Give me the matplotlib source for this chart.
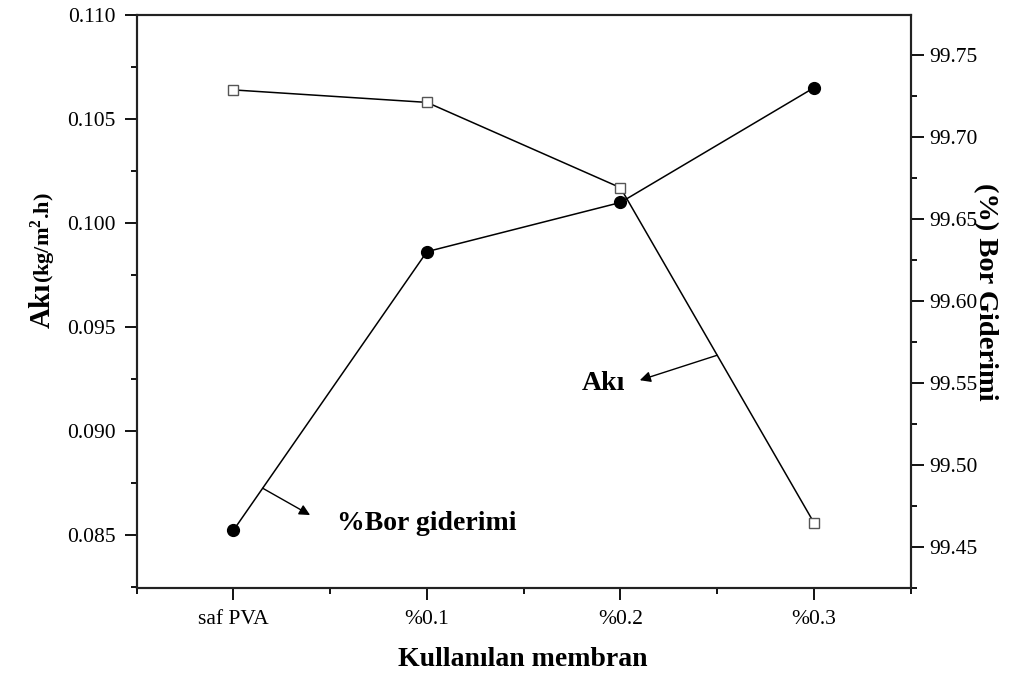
import matplotlib
matplotlib.use('Agg')
import matplotlib.pyplot as plt
from matplotlib.ticker import MultipleLocator, FormatStrFormatter, FixedLocator
import numpy as np

# ---- data ----
categories = ['saf PVA', '%0.1', '%0.2', '%0.3']
flux = [0.1064, 0.1058, 0.1017, 0.0856]          # Akı (kg/m2.h), left axis
boron_removal = [99.46, 99.63, 99.66, 99.73]     # % Bor giderimi, right axis

plt.rcParams['font.family'] = ['Liberation Serif', 'DejaVu Serif']
plt.rcParams['mathtext.fontset'] = 'custom'
plt.rcParams['mathtext.rm'] = 'Liberation Serif'
plt.rcParams['mathtext.bf'] = 'Liberation Serif:bold'

W, H = 1027, 681
fig = plt.figure(figsize=(W / 100, H / 100), dpi=100)
L, R, T, B = 136.7, 910.7, 15.0, 588.3
ax = fig.add_axes([L / W, 1 - B / H, (R - L) / W, (B - T) / H])

x = np.arange(len(categories))
ax.plot(x, flux, '-', color='black', lw=1.1, marker='s', ms=7.5, mfc='white',
        mec='#555555', mew=1.0, zorder=3)
ax.set_xlim(-0.5, 3.5)
ax.set_ylim(0.08245, 0.110)

ax2 = ax.twinx()
ax2.plot(x, boron_removal, '-', color='black', lw=1.1, marker='o', ms=8.5,
         mfc='black', mec='black', zorder=3)
ax2.set_ylim(99.4246, 99.7744)

for a in (ax, ax2):
    for s in a.spines.values():
        s.set_linewidth(1.5)
        s.set_color('#222222')

# x axis ticks
ax.set_xticks(x)
ax.set_xticklabels(categories)
ax.xaxis.set_minor_locator(FixedLocator([-0.5, 0.5, 1.5, 2.5, 3.5]))
ax.tick_params(axis='x', which='major', direction='out', length=8.5, width=1.3,
               labelsize=15.5, pad=7, top=False)
ax.tick_params(axis='x', which='minor', direction='out', length=4.5, width=1.3, top=False)

# left y axis
ax.yaxis.set_major_locator(MultipleLocator(0.005))
ax.yaxis.set_minor_locator(MultipleLocator(0.0025))
ax.yaxis.set_major_formatter(FormatStrFormatter('%.3f'))
ax.tick_params(axis='y', which='major', direction='out', length=9, width=1.3,
               labelsize=15.5, pad=6, right=False)
ax.tick_params(axis='y', which='minor', direction='out', length=4.5, width=1.3, right=False)

# right y axis
ax2.yaxis.set_major_locator(MultipleLocator(0.05))
ax2.yaxis.set_minor_locator(MultipleLocator(0.025))
ax2.yaxis.set_major_formatter(FormatStrFormatter('%.2f'))
ax2.tick_params(axis='y', which='major', direction='out', length=9, width=1.3,
                labelsize=15.5, pad=4, left=False)
ax2.tick_params(axis='y', which='minor', direction='out', length=4.5, width=1.3, left=False)

# annotations
arrow_kw = dict(arrowstyle='-|>', color='black', lw=1.0, mutation_scale=16,
                shrinkA=0, shrinkB=0)
xs = 2.5
ax.annotate('', xy=(2.10, 0.09245), xytext=(xs, np.interp(xs, x, flux)),
            arrowprops=arrow_kw)
ax.text(1.80, 0.0923, 'Akı', ha='left', va='center', fontsize=20, fontweight='bold')

xb = 0.151
ax2.annotate('', xy=(0.396, 99.4693), xytext=(xb, np.interp(xb, x, boron_removal)),
             arrowprops=arrow_kw)
ax2.text(0.533, 99.4642, '%Bor giderimi', ha='left', va='center', fontsize=20,
         fontweight='bold')

# axis labels
fig.text(523 / W, 1 - 659 / H, 'Kullanılan membran', ha='center', va='center',
         fontsize=20, fontweight='bold')
y0 = 1 - 283 / H
xbase = 50 / W
fig.text(xbase, y0, 'Akı', rotation=90, rotation_mode='anchor', ha='right',
         va='baseline', fontsize=21, fontweight='bold')
fig.text(xbase, y0, r'(kg/m$^{\mathbf{2}}$.h)', rotation=90, rotation_mode='anchor',
         ha='left', va='baseline', fontsize=16, fontweight='bold')
fig.text(985 / W, 1 - 292 / H, '(%) Bor Giderimi', rotation=270, ha='center',
         va='center', fontsize=20.5, fontweight='bold')

fig.savefig('out.png', dpi=100)
